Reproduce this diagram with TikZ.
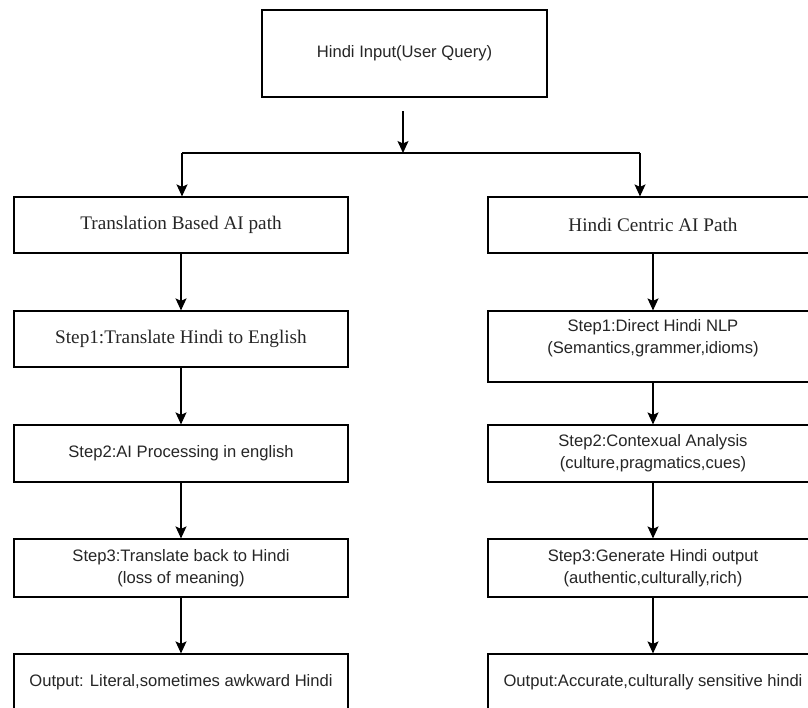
\documentclass[tikz,border=0pt]{standalone}
\usepackage{fontspec}
\setmainfont{Liberation Serif}
\setsansfont{Liberation Sans}
\usetikzlibrary{arrows.meta}
\begin{document}
\begin{tikzpicture}[x=1pt,y=-1pt,
  box/.style={draw=black,line width=1.2pt,fill=white,inner sep=0pt,align=center},
  lbox/.style={box,minimum width=334pt},
  rbox/.style={box,minimum width=330pt},
  sf/.style={font=\fontsize{16.6}{22}\selectfont\sffamily,text=black!85},
  rm/.style={font=\fontsize{19.2}{23}\selectfont\rmfamily,text=black!85},
  plain/.style={line width=1.2pt,draw=black},
  arr/.style={plain,-{Stealth[width=11pt,length=12pt,inset=2.5pt]}}]
\clip (0,0) rectangle (808,707);
\fill[white] (0,0) rectangle (808,707);

% top
\node[box,sf,minimum width=285pt,minimum height=87pt] (top) at (404.5,53.5) {Hindi Input(User Query)};

% left column
\node[lbox,rm,minimum height=56pt] (tl) at (181,225) {Translation Based AI path};
\node[lbox,rm,minimum height=56pt] (l1) at (181,339) {Step1:Translate Hindi to English};
\node[lbox,sf,minimum height=57pt] (l2) at (181,453.5) {Step2:AI Processing in english};
\node[lbox,sf,minimum height=58pt] (l3) at (181,568) {Step3:Translate back to Hindi\\(loss of meaning)};
\node[lbox,sf,minimum height=56pt] (lo) at (181,682) {Output: Literal,sometimes awkward Hindi};

% right column
\node[rbox,rm,minimum height=56pt] (rc) at (653,225) {Hindi Centric AI Path};
\node[rbox,minimum height=71pt] (r1) at (653,346.5) {};
\node[sf,align=center,inner sep=0pt] (r1t) at (653,338) {Step1:Direct Hindi NLP\\(Semantics,grammer,idioms)};
\node[rbox,sf,minimum height=57pt] (r2) at (653,453.5) {Step2:Contexual Analysis\\(culture,pragmatics,cues)};
\node[rbox,sf,minimum height=58pt] (r3) at (653,568) {Step3:Generate Hindi output\\(authentic,culturally,rich)};
\node[rbox,sf,minimum height=56pt] (ro) at (653,682) {Output:Accurate,culturally sensitive hindi};

% branch
\coordinate (ts) at (403,111);
\coordinate (tj) at (403,153);
\coordinate (bl) at (182,153);
\coordinate (br) at (640,153);
\draw[arr] (ts) -- (tj);
\draw[plain] (bl) -- (br);
\draw[arr] (bl) -- (bl |- tl.north);
\draw[arr] (br) -- (br |- rc.north);

% left arrows
\draw[arr] (tl) -- (l1);
\draw[arr] (l1) -- (l2);
\draw[arr] (l2) -- (l3);
\draw[arr] (l3) -- (lo);

% right arrows
\draw[arr] (rc) -- (r1);
\draw[arr] (r1) -- (r2);
\draw[arr] (r2) -- (r3);
\draw[arr] (r3) -- (ro);
\end{tikzpicture}
\end{document}
